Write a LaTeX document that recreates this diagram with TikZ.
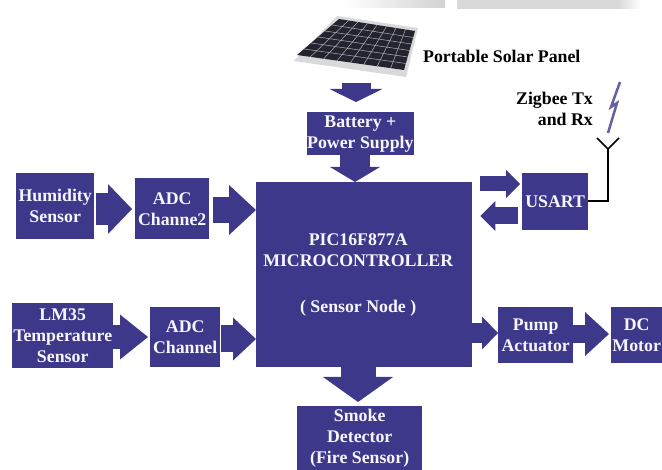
\documentclass[tikz,border=0pt]{standalone}
\usepackage{fontspec}
\setmainfont{Liberation Serif}
\usetikzlibrary{arrows.meta,calc}
\definecolor{boxc}{RGB}{62,56,138}
\definecolor{boxtxt}{RGB}{246,246,255}
\definecolor{panelc}{RGB}{36,36,48}
\tikzset{
  box/.style={fill=boxc, text=boxtxt, font=\bfseries\fontsize{17.8}{21}\selectfont, align=center, inner sep=0pt, anchor=north west},
  fat/.style n args={3}{draw=boxc, line width=#1, -{Triangle[width=#2,length=#3,line width=0pt]}},
  lbl/.style={font=\bfseries\fontsize{17.8}{21}\selectfont, text=black, inner sep=0pt},
  wire/.style={draw=black, line width=1.6pt},
}
\begin{document}
\begin{tikzpicture}[x=1pt,y=-1pt]
\useasboundingbox (0,0) rectangle (662,470);
\fill[white] (0,0) rectangle (662,470);
% faint grey bars at the top edge
\shade[left color=white, right color=gray!35] (345,0) rectangle (445,8);
\fill[gray!30] (457,0) rectangle (618,9);
\shade[left color=gray!30, right color=white] (618,0) rectangle (640,9);

% solar panel
\coordinate (pTL) at (339,19);
\coordinate (pTR) at (415,31);
\coordinate (pBR) at (404,70);
\coordinate (pBL) at (297,55);
\fill[gray!30] (337,16) -- (418,28) -- (406,77) -- (294,61) -- cycle;
\fill[panelc] (pTL) -- (pTR) -- (pBR) -- (pBL) -- cycle;
\foreach \t in {1,...,7}
  \draw[gray!60, line width=0.5pt] ($(pTL)!{\t/8}!(pTR)$) -- ($(pBL)!{\t/8}!(pBR)$);
\foreach \t in {1,...,5}
  \draw[gray!60, line width=0.5pt] ($(pTL)!{\t/6}!(pBL)$) -- ($(pTR)!{\t/6}!(pBR)$);
\node[lbl, anchor=base west] (soltxt) at (423,63) {Portable Solar Panel};

% boxes
\node[box, minimum width=78pt, minimum height=66pt] (hum) at (16,173) {Humidity\\Sensor};
\node[box, minimum width=74pt, minimum height=61pt] (adc2) at (135,178) {ADC\\Channe2};
\node[box, minimum width=101pt, minimum height=65pt] (lm) at (12,303) {LM35\\Temperature\\Sensor};
\node[box, minimum width=70pt, minimum height=60pt] (adc1) at (150,307) {ADC\\Channel};
\node[box, minimum width=105pt, minimum height=43pt] (bat) at (307,112) {Battery +\\Power Supply};
\node[box, minimum width=216pt, minimum height=185pt] (mcu) at (256,182) {};
\node[lbl, text=boxtxt, align=center] (mcutxt) at ([xshift=-6pt]mcu.center) {PIC16F877A\\MICROCONTROLLER\\[25pt]( Sensor Node )};
\node[box, minimum width=66pt, minimum height=57pt] (usart) at (522,173) {USART};
\node[box, minimum width=75pt, minimum height=56pt] (pump) at (498,307) {Pump\\Actuator};
\node[box, minimum width=51pt, minimum height=56pt] (dc) at (611,307) {DC\\Motor};
\node[box, minimum width=125pt, minimum height=64pt] (smoke) at (297,406) {Smoke\\Detector\\(Fire Sensor)};

% block arrows
\coordinate (pb) at (356,83);
\draw[fat={29pt}{53pt}{13pt}] (pb) -- ($(bat.north -| pb)+(0,-10)$);
\coordinate (c2) at (355,0);
\draw[fat={30pt}{50pt}{15pt}] (bat.south -| c2) -- (mcu.north -| c2);
\coordinate (r3) at (0,209);
\draw[fat={32pt}{50pt}{24pt}] ($(hum.east |- r3)+(2,0)$) -- ($(adc2.west |- r3)+(-3,0)$);
\coordinate (r4) at (0,210);
\draw[fat={26pt}{50pt}{27pt}] ($(adc2.east |- r4)+(4,0)$) -- (mcu.west |- r4);
\coordinate (r5) at (0,337);
\draw[fat={24pt}{45pt}{28pt}] (lm.east |- r5) -- ($(adc1.west |- r5)+(-2,0)$);
\coordinate (r6) at (0,339);
\draw[fat={27pt}{43pt}{23pt}] ($(adc1.east |- r6)+(1,0)$) -- (mcu.west |- r6);
\coordinate (r7) at (0,184);
\draw[fat={15pt}{28pt}{14pt}] ($(mcu.east |- r7)+(8,0)$) -- ($(usart.west |- r7)+(-2,0)$);
\coordinate (r8) at (0,216);
\draw[fat={17pt}{30pt}{15pt}] ($(usart.west |- r8)+(-4,0)$) -- ($(mcu.east |- r8)+(8,0)$);
\coordinate (r9) at (0,333);
\draw[fat={20pt}{33pt}{16pt}] (mcu.east |- r9) -- (pump.west |- r9);
\coordinate (r10) at (0,334);
\draw[fat={18pt}{44pt}{24pt}] (pump.east |- r10) -- ($(dc.west |- r10)+(-2,0)$);
\coordinate (c11) at (358,0);
\draw[fat={35pt}{70pt}{25pt}] (mcu.south -| c11) -- ($(smoke.north -| c11)+(0,-4)$);

% antenna
\coordinate (r12) at (0,201);
\coordinate (ant) at (608,149);
\coordinate (antl) at (597,138);
\coordinate (antr) at (619,138);
\draw[wire] (usart.east |- r12) -| (ant);
\draw[wire, line join=miter] (antl) -- (ant) -- (antr);
% lightning
\draw[line width=2.5pt, boxc!80, line join=miter] (620,82) -- (611,107) -- (617,103) -- (608,133);
\node[lbl, align=right, anchor=north east] (zig) at (593,92) {Zigbee Tx\\and Rx};
\end{tikzpicture}
\end{document}
